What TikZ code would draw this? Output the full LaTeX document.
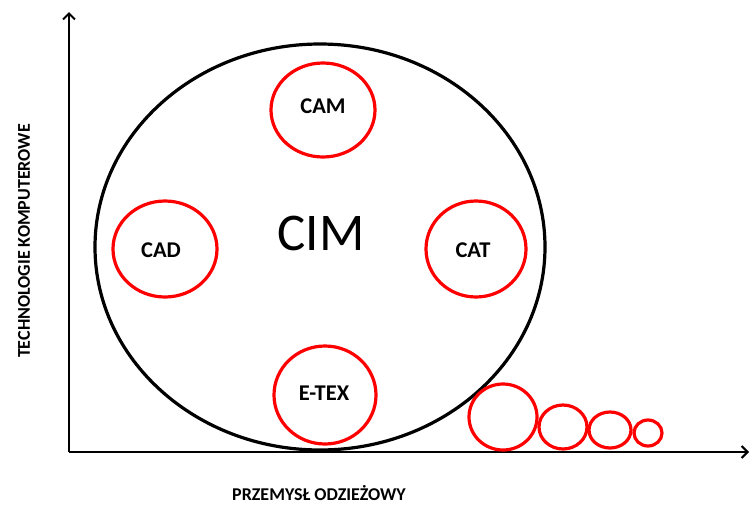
\documentclass[tikz,border=0pt]{standalone}
\usepackage{fontspec}
\setmainfont{Carlito}
\usetikzlibrary{arrows.meta}
\begin{document}
\begin{tikzpicture}[x=1pt,y=-1pt,
  axis/.style={line width=2pt,-{Straight Barb[length=6pt,width=12pt,line width=2pt]}},
  ring/.style={draw=red,line width=3.2pt},
  lbl/.style={font=\bfseries\fontsize{22.5}{24}\selectfont},
  axlbl/.style={font=\bfseries\fontsize{18}{20}\selectfont}]
\useasboundingbox (0,0) rectangle (750,504);
% axes
\coordinate (o) at (69,452);
\coordinate (ytop) at (69,12);
\coordinate (xend) at (749,452);
\draw[axis] (o) -- (ytop);
\draw[axis] (o) -- (xend);
% axis titles
\node[rotate=90,axlbl] (ylab) at (24,241) {TECHNOLOGIE KOMPUTEROWE};
\node[axlbl] (xlab) at (319,493) {PRZEMYSŁ ODZIEŻOWY};
% main system
\draw[line width=3.2pt] (320,247) ellipse [x radius=225, y radius=203];
\node[font=\fontsize{53}{58}\selectfont] (cim) at (321,233) {CIM};
% subsystems
\draw[ring] (323,110) ellipse [x radius=52, y radius=47];
\node[lbl] (cam) at (323,106) {CAM};
\draw[ring] (165,249) ellipse [x radius=52, y radius=48];
\node[lbl] (cad) at (161,250) {CAD};
\draw[ring] (476,249) ellipse [x radius=50, y radius=48];
\node[lbl] (cat) at (473,250) {CAT};
\draw[ring] (325,395) ellipse [x radius=51, y radius=49];
\node[lbl] (etex) at (324,393) {E-TEX};
% shrinking rings along the axis
\draw[ring] (503,417) ellipse [x radius=34, y radius=33];
\draw[ring] (563,427) ellipse [x radius=24, y radius=22];
\draw[ring] (610,430) ellipse [x radius=21, y radius=18];
\draw[ring] (648,433) ellipse [x radius=14, y radius=13];
\end{tikzpicture}
\end{document}
